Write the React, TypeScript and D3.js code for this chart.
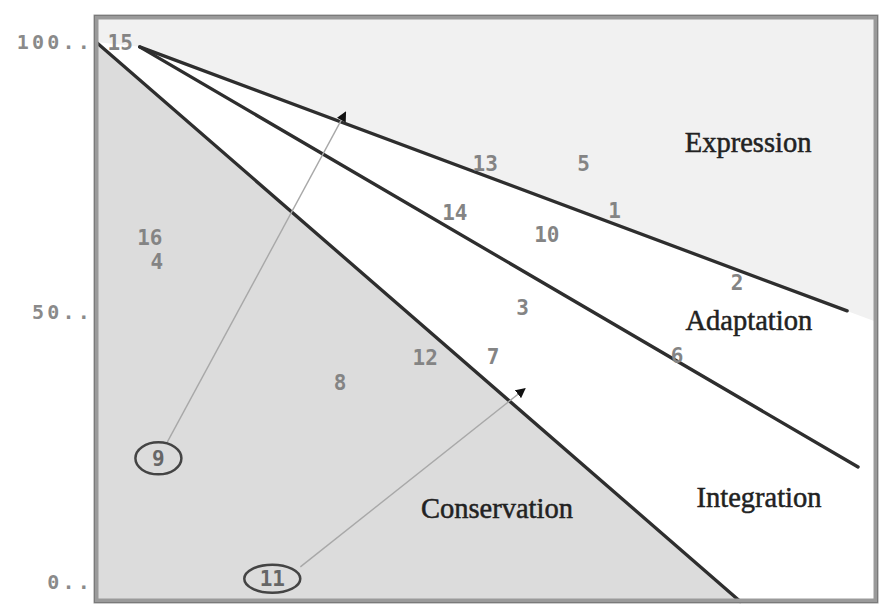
import * as d3 from "d3";

const width = 896;
const height = 616;

// frame of the plot, in pixels
const left = 96;
const right = 876;
const top = 17;
const bottom = 601;

const yTicks = [100, 50, 0];

// boundary lines between the zones (data units)
const boundaryNames = ["conservation", "integration", "expression"];
const boundaryStart = [
  [0, 100],
  [5.6, 99.1],
  [5.6, 99.1],
];
const boundaryEnd = [
  [82.6, -3.6],
  [97.7, 21.3],
  [96.3, 50.2],
];

// numbered cases
const caseIds = [15, 13, 5, 14, 1, 10, 16, 4, 2, 3, 12, 7, 6, 8, 9, 11];
const caseX = [3.1, 49.9, 62.5, 46.0, 66.5, 57.8, 6.9, 7.8, 82.2, 54.7, 42.2, 50.9, 74.5, 31.3, 8.0, 22.6];
const caseY = [100, 77.6, 77.6, 68.5, 68.9, 64.3, 63.9, 59.3, 55.4, 50.8, 41.5, 41.7, 42.0, 36.9, 22.9, 0.6];
const circledIds = [9, 11];

// arrows that move a circled case
const arrowFrom = [9, 11];
const arrowStart = [
  [9.1, 25.8],
  [26.2, 2.8],
];
const arrowEnd = [
  [32.0, 87.0],
  [55.0, 35.8],
];

// zone names
const zoneNames = ["Expression", "Adaptation", "Integration", "Conservation"];
const zoneX = [83.6, 83.7, 85.0, 51.4];
const zoneY = [79.6, 46.7, 13.9, 11.9];

const x = d3.scaleLinear().domain([0, 100]).range([left, right]);
const y = d3.scaleLinear().domain([0, 100]).range([582, 42]);

const line = d3
  .line<number[]>()
  .x((d) => x(d[0]))
  .y((d) => y(d[1]));

export default function App() {
  const xMin = x.invert(left);
  const xMax = x.invert(right);
  const yMin = y.invert(bottom);
  const yMax = y.invert(top);

  const [c0, c1] = [boundaryStart[0], boundaryEnd[0]];
  const [e0, e1] = [boundaryStart[2], boundaryEnd[2]];
  const eSlope = (e1[1] - e0[1]) / (e1[0] - e0[0]);
  const eRight = e0[1] + eSlope * (xMax - e0[0]);

  // shaded zones
  const conservationArea = [
    [xMin, c0[1]],
    c0,
    c1,
    [c1[0], yMin],
    [xMin, yMin],
  ];
  const expressionArea = [
    [xMin, yMax],
    [xMin, c0[1]],
    e0,
    [xMax, eRight],
    [xMax, yMax],
  ];

  return (
    <svg
      width={width}
      height={height}
      style={{ position: "absolute", left: 0, top: 0, background: "#ffffff" }}
    >
      <defs>
        <marker
          id="head"
          viewBox="0 0 10 10"
          refX="9"
          refY="5"
          markerWidth="10"
          markerHeight="10"
          markerUnits="userSpaceOnUse"
          orient="auto"
        >
          <path d="M0,0 L10,5 L0,10 z" fill="#111" />
        </marker>
      </defs>

      <rect x={left} y={top} width={right - left} height={bottom - top} fill="#ffffff" />
      <path d={line(expressionArea as number[][]) + "Z"} fill="#f1f1f1" />
      <path d={line(conservationArea as number[][]) + "Z"} fill="#dcdcdc" />

      {/* boundaries */}
      {boundaryNames.map((name, i) => (
        <path
          key={name}
          d={line([boundaryStart[i], boundaryEnd[i]]) ?? ""}
          stroke="#2e2e2e"
          strokeWidth={3.3}
          strokeLinecap="round"
          fill="none"
        />
      ))}

      {/* arrows */}
      {arrowFrom.map((id, i) => (
        <path
          key={id}
          d={line([arrowStart[i], arrowEnd[i]]) ?? ""}
          stroke="#a8a8a8"
          strokeWidth={1.4}
          fill="none"
          markerEnd="url(#head)"
        />
      ))}

      {/* cases */}
      {caseIds.map((id, i) => (
        <g key={id} transform={`translate(${x(caseX[i])}, ${y(caseY[i])})`}>
          {circledIds.includes(id) && (
            <ellipse
              rx={id > 9 ? 28 : 23}
              ry={id > 9 ? 14 : 16}
              fill="none"
              stroke="#444"
              strokeWidth={2.5}
            />
          )}
          <text
            textAnchor="middle"
            dy="0.36em"
            fill={circledIds.includes(id) ? "#666" : "#848484"}
            style={{ fontFamily: "'DejaVu Sans Mono', monospace", fontSize: 21, fontWeight: 700 }}
          >
            {id}
          </text>
        </g>
      ))}

      {/* zone names */}
      {zoneNames.map((name, i) => (
        <text
          key={name}
          x={x(zoneX[i])}
          y={y(zoneY[i])}
          textAnchor="middle"
          fill="#222"
          stroke="#222"
          strokeWidth={0.5}
          style={{ fontFamily: "'Liberation Serif', serif", fontSize: 28.5 }}
        >
          {name}
        </text>
      ))}

      {/* y ticks */}
      {yTicks.map((t) => (
        <text
          key={t}
          x={left - 3}
          y={y(t)}
          dy="0.36em"
          textAnchor="end"
          fill="#8a8a8a"
          letterSpacing={3.2}
          style={{ fontFamily: "'DejaVu Sans Mono', monospace", fontSize: 20, fontWeight: 700 }}
        >
          {`${t}..`}
        </text>
      ))}

      {/* frame */}
      <rect
        x={left}
        y={top}
        width={right - left}
        height={bottom - top}
        fill="none"
        stroke="#9a9a9a"
        strokeWidth={5}
      />
      <rect
        x={left - 1.5}
        y={top - 1.5}
        width={right - left + 3}
        height={bottom - top + 3}
        fill="none"
        stroke="#7a7a7a"
        strokeWidth={1}
      />
    </svg>
  );
}
